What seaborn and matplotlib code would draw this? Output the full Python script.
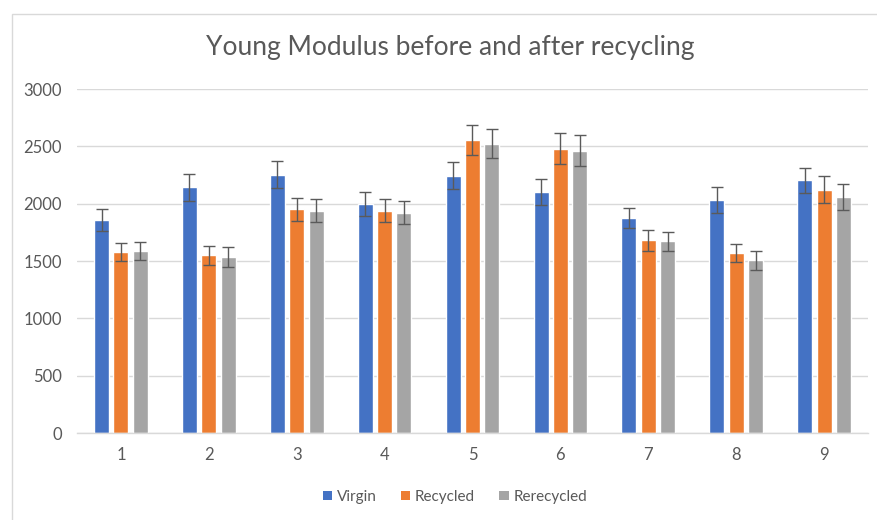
import matplotlib
matplotlib.use("Agg")
import matplotlib.pyplot as plt
import seaborn as sns
import pandas as pd
import numpy as np
from matplotlib.patches import Patch, Rectangle

# ---- data ----
samples = ["1", "2", "3", "4", "5", "6", "7", "8", "9"]
series_names = ["Virgin", "Recycled", "Rerecycled"]
virgin = [1855, 2142, 2253, 1997, 2244, 2102, 1875, 2032, 2203]
recycled = [1578, 1549, 1950, 1939, 2553, 2480, 1680, 1570, 2122]
rerecycled = [1590, 1537, 1939, 1919, 2524, 2460, 1671, 1505, 2058]
virgin_err = [95, 115, 115, 108, 120, 110, 90, 110, 110]
recycled_err = [80, 85, 100, 100, 130, 135, 90, 80, 115]
rerecycled_err = [80, 85, 100, 100, 130, 135, 85, 80, 115]
yticks = [0, 500, 1000, 1500, 2000, 2500, 3000]
colors = ["#4472C4", "#ED7D31", "#A5A5A5"]
title = "Young Modulus before and after recycling"

values = [virgin, recycled, rerecycled]
errors = [virgin_err, recycled_err, rerecycled_err]
df = pd.DataFrame({
    "Sample": samples * 3,
    "Series": [s for s in series_names for _ in samples],
    "Value": virgin + recycled + rerecycled,
})

sns.set_theme(style="white")
plt.rcParams["font.family"] = ["Lato", "DejaVu Sans"]

W, H = 878, 520
fig = plt.figure(figsize=(W / 100, H / 100), dpi=100)
ax = fig.add_axes([77 / W, 1 - 433 / H, (868 - 77) / W, (433 - 89) / H])

sns.barplot(data=df, x="Sample", y="Value", hue="Series", order=samples,
            hue_order=series_names, palette=colors, width=0.66, gap=0.22,
            errorbar=None, legend=False, ax=ax, saturation=1)

# error bars at bar centres (patches in hue order)
bars = [p for p in ax.patches if p.get_height() > 0]
for i, (vals, errs) in enumerate(zip(values, errors)):
    group = bars[i * len(samples):(i + 1) * len(samples)]
    xs = [p.get_x() + p.get_width() / 2 for p in group]
    ax.errorbar(xs, vals, yerr=errs, fmt="none", ecolor="#5A5A5A",
                elinewidth=1.0, capsize=4.5, capthick=1.0, zorder=5)

ax.set_ylim(0, 3000)
ax.set_yticks(yticks)
ax.set_yticklabels([str(t) for t in yticks])
ax.set_xlim(-0.5, len(samples) - 0.5)
ax.set_xlabel("")
ax.set_ylabel("")
ax.yaxis.grid(True, color="#D9D9D9", linewidth=1.0)
ax.set_axisbelow(True)
for s in ["top", "right", "left"]:
    ax.spines[s].set_visible(False)
ax.spines["bottom"].set_color("#D9D9D9")
ax.spines["bottom"].set_linewidth(1.0)
ax.tick_params(axis="y", length=0, pad=11, labelsize=12, labelcolor="#595959")
ax.tick_params(axis="x", length=0, pad=10, labelsize=12, labelcolor="#595959")

fig.text(450 / W, 1 - 47 / H, title, ha="center", va="center",
         fontsize=19, color="#595959")

handles = [Patch(facecolor=c, edgecolor="none", label=n)
           for c, n in zip(colors, series_names)]
fig.legend(handles=handles, loc="center", bbox_to_anchor=(455 / W, 1 - 497 / H),
           ncol=3, frameon=False, fontsize=11, handlelength=0.6, handleheight=0.6,
           handletextpad=0.3, columnspacing=1.6, labelcolor="#595959")

# chart border
fig.patches.append(Rectangle((12 / W, -0.1), 1.2, 1.1 - 14 / H, transform=fig.transFigure,
                             fill=False, edgecolor="#D9D9D9", linewidth=1.0))

fig.savefig("out.png", dpi=100)
